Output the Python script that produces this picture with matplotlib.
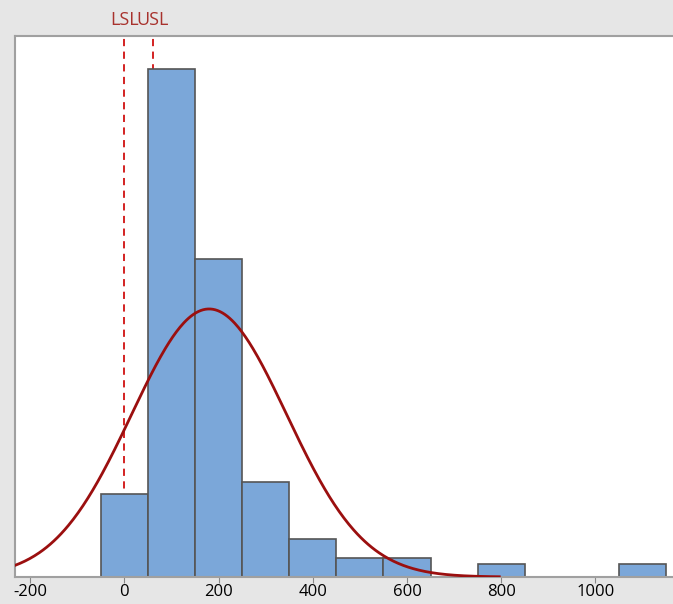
import numpy as np
import matplotlib.pyplot as plt

plt.rcParams['axes.unicode_minus'] = False

# histogram data (bins of width 100, starting at -50)
bin_left = [-50, 50, 150, 250, 350, 450, 550, 650, 750, 850, 950, 1050]
counts = [13, 80, 50, 15, 6, 3, 3, 0, 2, 0, 0, 2]
bin_width = 100

# fitted normal curve and spec limits
mean = 180
sigma = 164.5
curve_end = 796
lsl = 0
usl = 60
xticks = [-200, 0, 200, 400, 600, 800, 1000]

n_total = sum(counts)

fig = plt.figure(figsize=(6.73, 6.04), dpi=100, facecolor='#e6e6e6')
ax = fig.add_axes([0.0223, 0.0447, 0.98, 0.896])
ax.set_facecolor('white')

ax.axvline(lsl, color='#d01010', ls=(0, (4, 3)), lw=1.3, zorder=1)
ax.axvline(usl, color='#d01010', ls=(0, (4, 3)), lw=1.3, zorder=1)

ax.bar(bin_left, counts, width=bin_width, align='edge', color='#7ba7d9',
       edgecolor='#555555', linewidth=1.2, zorder=2)

xs = np.linspace(-232, curve_end, 400)
ys = n_total * bin_width / (sigma * np.sqrt(2 * np.pi)) * np.exp(-0.5 * ((xs - mean) / sigma) ** 2)
ax.plot(xs, ys, color='#9b0f0f', lw=2, zorder=3)

ax.set_xlim(-232, 1168)
ax.set_ylim(0, 85.2)
ax.set_xticks(xticks)
ax.set_yticks([])
ax.tick_params(axis='x', labelsize=12, length=4, color='#888888', pad=1)
for lbl in ax.get_xticklabels():
    lbl.set_fontfamily('Open Sans')
for s in ax.spines.values():
    s.set_color('#a0a0a0')
    s.set_linewidth(1.5)
ax.spines['right'].set_visible(False)

ax.text(lsl, 1.012, 'LSL', transform=ax.get_xaxis_transform(), ha='center', va='bottom',
        color='#a8322d', fontsize=13, fontfamily='Open Sans')
ax.text(usl, 1.012, 'USL', transform=ax.get_xaxis_transform(), ha='center', va='bottom',
        color='#a8322d', fontsize=13, fontfamily='Open Sans')

plt.savefig('out.png', facecolor=fig.get_facecolor())
